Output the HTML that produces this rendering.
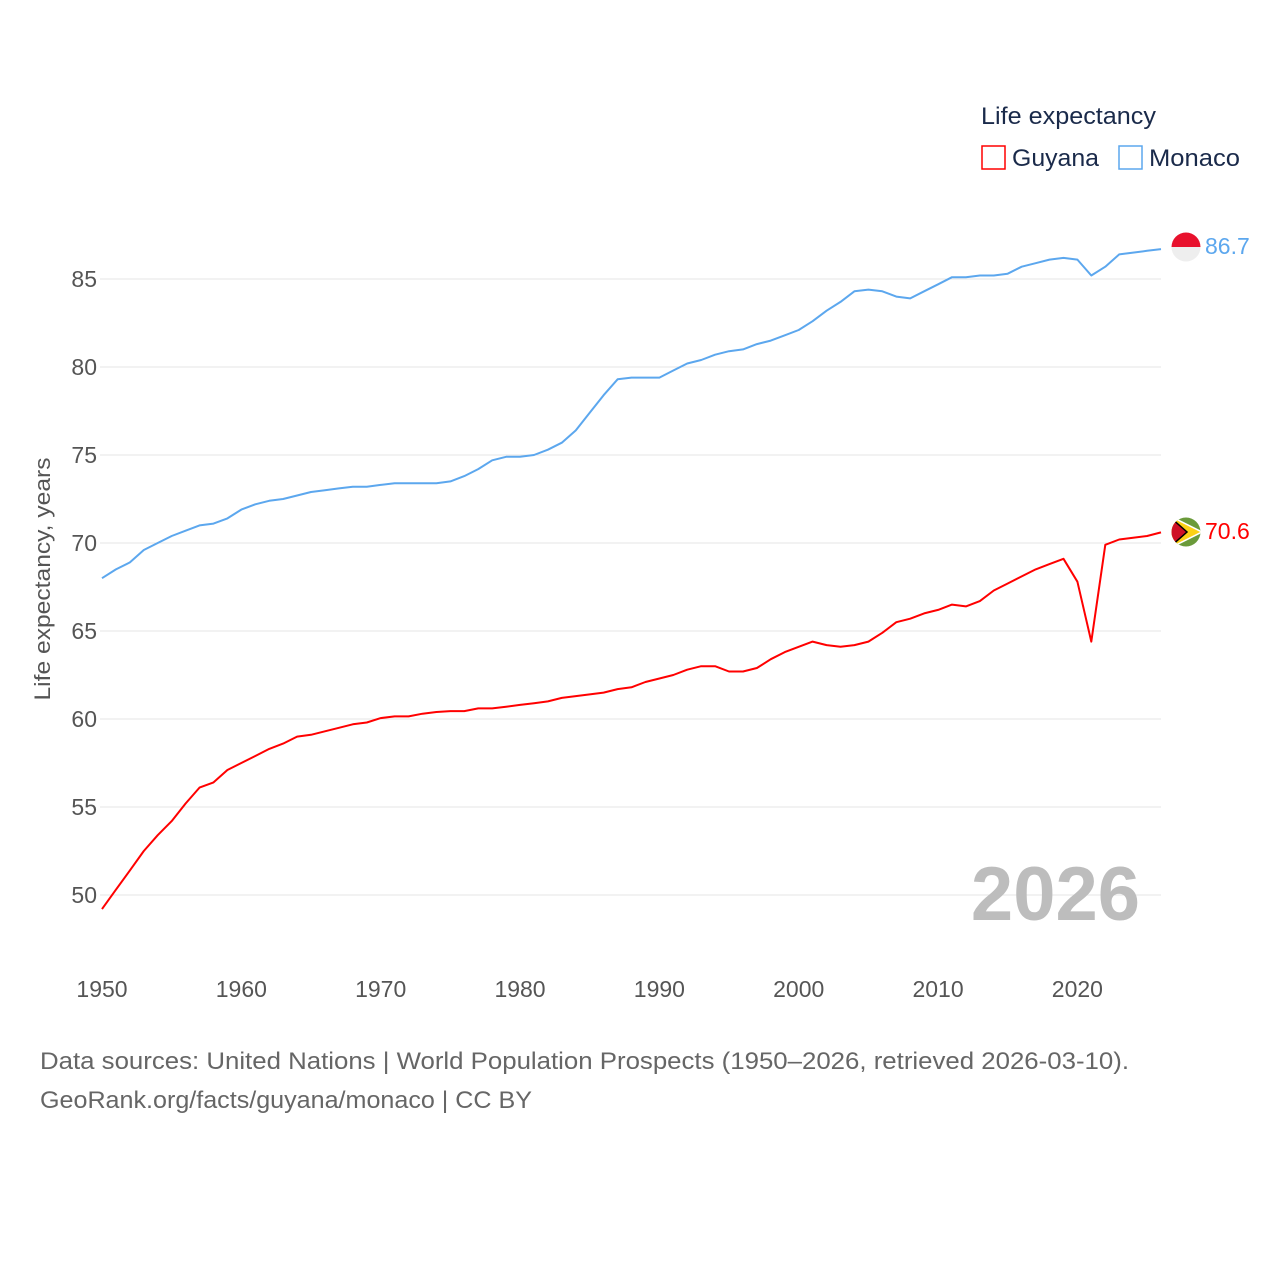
<!DOCTYPE html>
<html><head><meta charset="utf-8"><style>
html,body{margin:0;padding:0;background:#fff;}
svg text{font-family:"Liberation Sans",sans-serif;}
</style></head><body>
<svg width="1280" height="1280" viewBox="0 0 1280 1280">
<g id="grid"></g>
<g id="yticks"></g>
<g id="xticks"></g>
<text x="50" y="579" font-size="22" fill="#555" text-anchor="middle" textLength="243" lengthAdjust="spacingAndGlyphs" transform="rotate(-90 50 579)">Life expectancy, years</text>
<text x="1140" y="920" font-size="76" font-weight="bold" fill="#bdbdbd" text-anchor="end">2026</text>
<g id="series"></g>
<g>
<text x="981" y="124" font-size="24" fill="#1a2a4a" textLength="175" lengthAdjust="spacingAndGlyphs">Life expectancy</text>
<g><rect x="982" y="146" width="23" height="23" fill="none" stroke="#ff0000" stroke-width="1.5"/><text x="1012" y="166" font-size="24" fill="#1a2a4a" textLength="87" lengthAdjust="spacingAndGlyphs">Guyana</text></g>
<g><rect x="1119" y="146" width="23" height="23" fill="none" stroke="#5ca7ee" stroke-width="1.5"/><text x="1149" y="166" font-size="24" fill="#1a2a4a" textLength="91" lengthAdjust="spacingAndGlyphs">Monaco</text></g>
</g>
<g>
<clipPath id="c1"><circle cx="1186" cy="247" r="14.5"/></clipPath>
<g clip-path="url(#c1)"><rect x="1170" y="232" width="32" height="15" fill="#e8112d"/><rect x="1170" y="247" width="32" height="16" fill="#eee"/></g>
</g>
<g>
<clipPath id="c2"><circle cx="1186" cy="532" r="14.5"/></clipPath>
<g clip-path="url(#c2)"><rect x="1170" y="516" width="32" height="32" fill="#6a9a3a"/><polygon points="1170,516 1202,532 1170,548" fill="#fcd116" stroke="#fff" stroke-width="1.5"/><polygon points="1170,517 1187,532 1170,547" fill="#ce1126" stroke="#000" stroke-width="1.5"/></g>
</g>
<text x="1205" y="254" font-size="23" fill="#5ca7ee">86.7</text>
<text x="1205" y="539" font-size="23" fill="#ff0000">70.6</text>
<text x="40" y="1069" font-size="24" fill="#666" textLength="1089" lengthAdjust="spacingAndGlyphs">Data sources: United Nations | World Population Prospects (1950–2026, retrieved 2026-03-10).</text>
<text x="40" y="1108" font-size="24" fill="#666" textLength="492" lengthAdjust="spacingAndGlyphs">GeoRank.org/facts/guyana/monaco | CC BY</text>
</svg>
<script>
const startYear = 1950;
const yTicks = [50,55,60,65,70,75,80,85];
const xTicks = [1950,1960,1970,1980,1990,2000,2010,2020];
const monaco = [68.0,68.5,68.9,69.6,70.0,70.4,70.7,71.0,71.1,71.4,71.9,72.2,72.4,72.5,72.7,72.9,73.0,73.1,73.2,73.2,73.3,73.4,73.4,73.4,73.4,73.5,73.8,74.2,74.7,74.9,74.9,75.0,75.3,75.7,76.4,77.4,78.4,79.3,79.4,79.4,79.4,79.8,80.2,80.4,80.7,80.9,81.0,81.3,81.5,81.8,82.1,82.6,83.2,83.7,84.3,84.4,84.3,84.0,83.9,84.3,84.7,85.1,85.1,85.2,85.2,85.3,85.7,85.9,86.1,86.2,86.1,85.2,85.7,86.4,86.5,86.6,86.7];
const guyana = [49.2,50.3,51.4,52.5,53.4,54.2,55.2,56.1,56.4,57.1,57.5,57.9,58.3,58.6,59.0,59.1,59.3,59.5,59.7,59.8,60.05,60.15,60.15,60.3,60.4,60.45,60.45,60.6,60.6,60.7,60.8,60.9,61.0,61.2,61.3,61.4,61.5,61.7,61.8,62.1,62.3,62.5,62.8,63.0,63.0,62.7,62.7,62.9,63.4,63.8,64.1,64.4,64.2,64.1,64.2,64.4,64.9,65.5,65.7,66.0,66.2,66.5,66.4,66.7,67.3,67.7,68.1,68.5,68.8,69.1,67.8,64.4,69.9,70.2,70.3,70.4,70.6];
const NS="http://www.w3.org/2000/svg";
function xs(yr){return 102+(yr-1950)*(1161-102)/76;}
function ys(v){return 895-(v-50)*17.6;}
const grid=document.getElementById('grid'),yt=document.getElementById('yticks'),xt=document.getElementById('xticks'),ser=document.getElementById('series');
yTicks.forEach(v=>{
 const l=document.createElementNS(NS,'line');
 l.setAttribute('x1',100);l.setAttribute('x2',1161);l.setAttribute('y1',ys(v));l.setAttribute('y2',ys(v));
 l.setAttribute('stroke','#e6e6e6');l.setAttribute('stroke-width','1');
 
 
 grid.appendChild(l);
 const t=document.createElementNS(NS,'text');
 t.setAttribute('x',97);t.setAttribute('y',ys(v)+8);t.setAttribute('text-anchor','end');
 t.setAttribute('font-size','23');t.setAttribute('fill','#555');t.textContent=v;
 
 
 yt.appendChild(t);
});
xTicks.forEach(yr=>{
 const t=document.createElementNS(NS,'text');
 t.setAttribute('x',xs(yr));t.setAttribute('y',997);t.setAttribute('text-anchor','middle');
 t.setAttribute('font-size','23');t.setAttribute('fill','#555');t.textContent=yr;
 
 
 xt.appendChild(t);
});
function line(data,color,name){
 const p=document.createElementNS(NS,'polyline');
 p.setAttribute('points',data.map((v,i)=>xs(startYear+i).toFixed(1)+','+ys(v).toFixed(1)).join(' '));
 p.setAttribute('fill','none');p.setAttribute('stroke',color);p.setAttribute('stroke-width','2');p.setAttribute('stroke-linejoin','round');
 
 
 ser.appendChild(p);
}
line(monaco,'#5ca7ee','monaco-line');
line(guyana,'#ff0000','guyana-line');
</script>
</body></html>
